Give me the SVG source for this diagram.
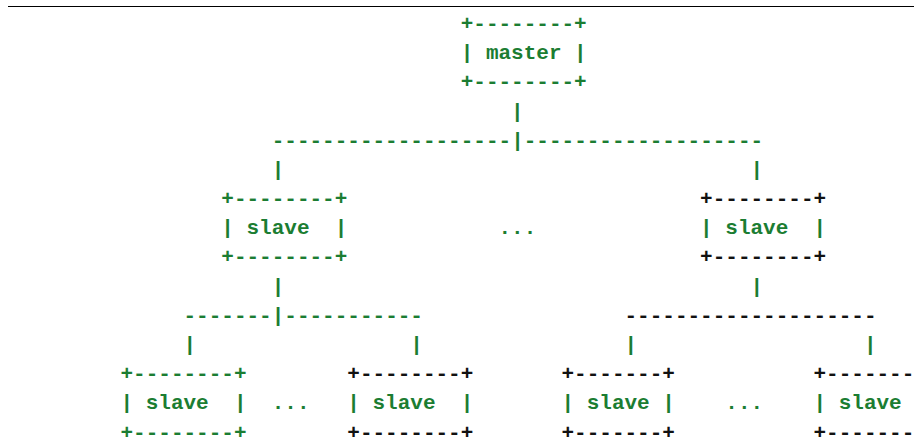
<svg xmlns="http://www.w3.org/2000/svg" width="914" height="442" viewBox="0 0 914 442">
<style>
text{font-family:"Liberation Mono","DejaVu Sans Mono",monospace;font-size:21px;font-weight:bold;white-space:pre}
.g{fill:#1b7d32}
.k{fill:#111}
</style>
<rect width="914" height="442" fill="#fff"/>
<line x1="8" y1="6.5" x2="914" y2="6.5" stroke="#000" stroke-width="1.2"/>
<g id="connectors">
<text class="g" x="511.1" y="117.5">|</text>
<text class="g" x="271.7" y="146.7">-------------------|-------------------</text>
<text class="g" x="271.7" y="175.9">|</text>
<text class="g" x="750.5" y="175.9">|</text>
<text class="g" x="271.7" y="292.6">|</text>
<text class="g" x="750.5" y="292.6">|</text>
<text class="g" x="183.5" y="321.8">-------|-----------</text>
<text class="k" x="624.5" y="321.8">--------------------</text>
<text class="g" x="183.5" y="351">|</text>
<text class="g" x="410.3" y="351">|</text>
<text class="g" x="624.5" y="351">|</text>
<text class="g" x="863.9" y="351">|</text>
</g>
<g id="master">
<text class="g" x="460.7" y="30">+--------+</text>
<text class="g" x="460.7" y="59.2">| master |</text>
<text class="g" x="460.7" y="88.4">+--------+</text>
</g>
<g id="slave-l1">
<text class="g" x="221.3" y="205.1">+--------+</text>
<text class="g" x="221.3" y="234.3">| slave  |</text>
<text class="g" x="221.3" y="263.4">+--------+</text>
</g>
<g id="ellipsis-1"><text class="g" x="498.5" y="234.3">...</text></g>
<g id="slave-r1">
<text class="k" x="700.1" y="205.1">+--------+</text>
<text class="g" x="700.1" y="234.3">| slave  |</text>
<text class="k" x="700.1" y="263.4">+--------+</text>
</g>
<g id="slave-l2a">
<text class="g" x="120.5" y="380.2">+--------+</text>
<text class="g" x="120.5" y="409.3">| slave  |</text>
<text class="g" x="120.5" y="438.5">+--------+</text>
</g>
<g id="ellipsis-2"><text class="g" x="271.7" y="409.3">...</text></g>
<g id="slave-l2b">
<text class="k" x="347.3" y="380.2">+--------+</text>
<text class="g" x="347.3" y="409.3">| slave  |</text>
<text class="k" x="347.3" y="438.5">+--------+</text>
</g>
<g id="slave-r2a">
<text class="k" x="561.5" y="380.2">+-------+</text>
<text class="g" x="561.5" y="409.3">| slave |</text>
<text class="k" x="561.5" y="438.5">+-------+</text>
</g>
<g id="ellipsis-3"><text class="g" x="725.3" y="409.3">...</text></g>
<g id="slave-r2b">
<text class="k" x="813.5" y="380.2">+--------+</text>
<text class="g" x="813.5" y="409.3">| slave  |</text>
<text class="k" x="813.5" y="438.5">+--------+</text>
</g>
</svg>
